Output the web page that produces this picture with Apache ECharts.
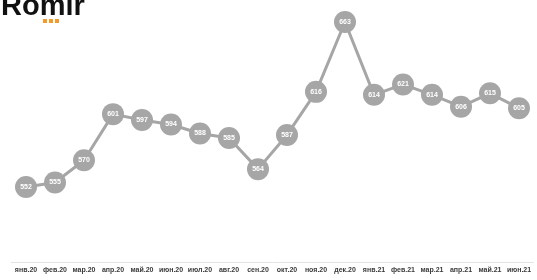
<!DOCTYPE html>
<html><head><meta charset="utf-8">
<script src="https://cdn.jsdelivr.net/npm/echarts@6/dist/echarts.min.js"></script>
<style>html,body{margin:0;padding:0;background:#fff}#c{width:537px;height:280px}</style>
</head><body><div id="c"></div>
<script>
var categories = ['янв.20','фев.20','мар.20','апр.20','май.20','июн.20','июл.20','авг.20','сен.20','окт.20','ноя.20','дек.20','янв.21','фев.21','мар.21','апр.21','май.21','июн.21'];
var values = [552,555,570,601,597,594,588,585,564,587,616,663,614,621,614,606,615,605];

var chart = echarts.init(document.getElementById('c'), null, {renderer:'canvas'});
chart.setOption({
  animation:false,
  backgroundColor:'#fff',
  grid:{left:11.5, right:3.5, top:11.6, bottom:75.2, containLabel:false},
  xAxis:{type:'category', data:categories, boundaryGap:true, offset:57,
    axisLine:{lineStyle:{color:'#e4e4e4', width:1}}, axisTick:{show:false},
    axisLabel:{interval:0, color:'#3a3a3a', fontSize:7, fontWeight:'bold', fontFamily:'Liberation Sans, Arial', margin:5}},
  yAxis:{type:'value', min:540, max:670, show:false, splitLine:{show:false}},
  series:[{type:'line', data:values, symbol:'circle', symbolSize:22,
    lineStyle:{color:'#a6a6a6', width:3}, itemStyle:{color:'#a6a6a6'},
    label:{show:true, position:'inside', color:'#fff', fontSize:7, fontWeight:'bold', fontFamily:'Liberation Sans, Arial'}}],
  graphic:[
    {type:'text', left:1, top:-8, style:{text:'Romir', fill:'#111', font:'bold 29px "Liberation Sans", Arial'}},
    {type:'rect', shape:{x:43, y:19, width:4, height:4}, style:{fill:'#f39a2b'}},
    {type:'rect', shape:{x:49, y:19, width:4, height:4}, style:{fill:'#f39a2b'}},
    {type:'rect', shape:{x:55, y:19, width:4, height:4}, style:{fill:'#f39a2b'}}
  ]
});
</script></body></html>
